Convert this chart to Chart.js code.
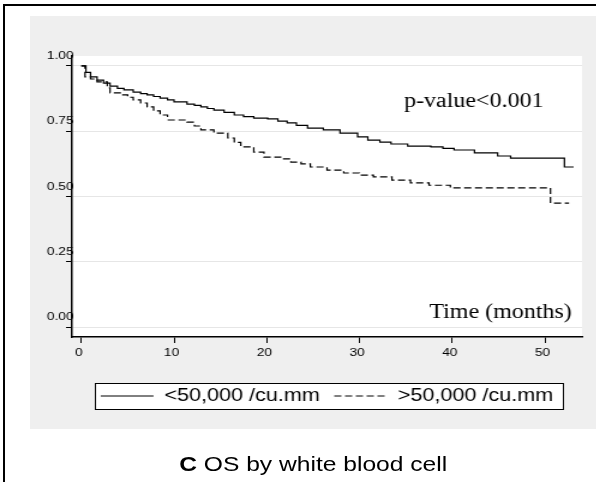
<!DOCTYPE html>
<html>
<head>
<meta charset="utf-8">
<script src="https://cdn.jsdelivr.net/npm/chart.js@4"></script>
<style>
  html, body { margin: 0; padding: 0; background: #fff; width: 596px; height: 482px; overflow: hidden; }
  #frame { position: absolute; left: 3px; top: 4px; width: 700px; height: 600px; border: 2px solid #000; }
  /* the original figure is stretched sideways, so draw narrow and widen */
  #stretch { position: absolute; left: 0; top: 0; width: 497px; height: 482px; transform: scaleX(1.2); transform-origin: 0 0; }
  #panel { position: absolute; left: 25px; top: 16px; width: 472px; height: 413px; background: #efefef; }
  #caption { position: absolute; left: 25px; top: 452px; width: 472px; text-align: center; font: 20.5px "Liberation Sans", Arial, sans-serif; color: #000; }
</style>
</head>
<body>
<div id="frame"></div>
<div id="stretch">
  <div id="panel"><canvas id="osChart" width="472" height="413"></canvas></div>
  <div id="caption"><b>C</b> OS by white blood cell</div>
</div>
<script>
// Kaplan-Meier steps (months, survival)
const lowTime = [0, 0.5, 1.0, 1.7, 2.4, 3.1, 3.9, 4.6, 5.6, 6.4, 7.1, 7.8, 8.5, 9.3, 10.0, 11.4, 12.2, 12.9, 13.6, 14.3,
    15.4, 16.5, 17.5, 18.6, 20.1, 21.2, 22.2, 23.2, 24.4, 26.1, 27.9, 29.8, 30.9, 32.2, 33.4, 35.2, 37.7, 39.0, 40.2,
    42.4, 44.9, 46.3, 52.1, 53.1];
const lowSurv = [1.000, 0.975, 0.958, 0.946, 0.934, 0.923, 0.914, 0.908, 0.900, 0.894, 0.889, 0.883, 0.877, 0.870, 0.862,
    0.854, 0.849, 0.843, 0.837, 0.831, 0.822, 0.812, 0.806, 0.800, 0.797, 0.789, 0.782, 0.772, 0.762, 0.755, 0.743,
    0.728, 0.716, 0.708, 0.701, 0.693, 0.690, 0.684, 0.678, 0.667, 0.655, 0.647, 0.613, 0.613];

const highTime = [0, 0.4, 1.0, 1.7, 2.8, 3.1, 4.2, 5.0, 5.6, 6.4, 7.1, 7.8, 8.5, 9.3, 11.4, 12.2, 12.9, 14.3, 15.8, 16.5,
    17.2, 18.6, 19.7, 21.5, 22.6, 23.7, 24.7, 26.5, 28.3, 30.0, 31.5, 33.5, 35.5, 37.5, 39.8, 50.6, 52.6];
const highSurv = [1.000, 0.958, 0.950, 0.939, 0.916, 0.897, 0.889, 0.880, 0.870, 0.858, 0.843, 0.828, 0.812, 0.793, 0.785,
    0.770, 0.755, 0.743, 0.724, 0.707, 0.690, 0.670, 0.651, 0.644, 0.632, 0.625, 0.613, 0.601, 0.590, 0.582, 0.575,
    0.563, 0.552, 0.543, 0.533, 0.475, 0.475];

const groupLabels = ["<50,000 /cu.mm", ">50,000 /cu.mm"];
const groupDash = [[], [6, 3]];
const xTicks = [0, 10, 20, 30, 40, 50];
const yTicks = [0, 0.25, 0.5, 0.75, 1];

// text placed inside the plot, in data units
const pValueText = "p-value<0.001";
const pValueAt = [34.8, 0.843];
const timeText = "Time (months)";
const timeAt = [52.9, 0.034];

const toPoints = (t, s) => t.map((x, i) => ({ x: x, y: s[i] }));

// white plot area and framed legend on the grey panel
const panelPlugin = {
    id: "panelPlugin",
    beforeDraw(chart) {
        const { ctx, chartArea: a, legend } = chart;
        ctx.save();
        ctx.fillStyle = "#fff";
        ctx.fillRect(a.left, a.top, a.right - a.left, a.bottom - a.top);

        const boxes = legend.legendHitBoxes;
        const first = boxes[0];
        const last = boxes[boxes.length - 1];
        const x0 = Math.round(first.left - 5);
        const x1 = Math.round(last.left + last.width + 8);
        const y0 = Math.round(first.top - 4);
        const y1 = Math.round(first.top + first.height + 4);
        ctx.fillRect(x0, y0, x1 - x0, y1 - y0);
        ctx.strokeStyle = "#000";
        ctx.lineWidth = 1;
        ctx.strokeRect(x0 + 0.5, y0 + 0.5, x1 - x0, y1 - y0);
        ctx.restore();
    }
};

const notesPlugin = {
    id: "notesPlugin",
    afterDatasetsDraw(chart) {
        const { ctx, scales } = chart;
        ctx.save();
        ctx.fillStyle = "#000";
        ctx.font = '20px "Liberation Serif", "Times New Roman", serif';
        ctx.textBaseline = "alphabetic";
        ctx.textAlign = "left";
        ctx.fillText(pValueText, scales.x.getPixelForValue(pValueAt[0]), scales.y.getPixelForValue(pValueAt[1]));
        ctx.textAlign = "right";
        ctx.fillText(timeText, scales.x.getPixelForValue(timeAt[0]), scales.y.getPixelForValue(timeAt[1]));
        ctx.restore();
    }
};

const tickFont = { family: '"Liberation Sans", Arial, sans-serif', size: 11.5 };

new Chart(document.getElementById("osChart"), {
    type: "line",
    data: {
        datasets: [
            {
                label: groupLabels[0],
                data: toPoints(lowTime, lowSurv),
                borderColor: "#000",
                borderWidth: 1.2,
                borderDash: groupDash[0],
                stepped: true,
                pointRadius: 0,
                fill: false
            },
            {
                label: groupLabels[1],
                data: toPoints(highTime, highSurv),
                borderColor: "#000",
                borderWidth: 1.2,
                borderDash: groupDash[1],
                stepped: true,
                pointRadius: 0,
                fill: false
            }
        ]
    },
    options: {
        responsive: false,
        animation: false,
        devicePixelRatio: 1,
        layout: { padding: { top: 40, right: 12, bottom: 14, left: 0 } },
        plugins: {
            tooltip: { enabled: false },
            legend: {
                position: "bottom",
                fullSize: false,
                labels: {
                    usePointStyle: true,
                    pointStyle: "line",
                    pointStyleWidth: 44,
                    boxWidth: 44,
                    padding: 12,
                    color: "#000",
                    font: { family: '"Liberation Sans", Arial, sans-serif', size: 18 },
                    // point style hides the dataset dash, so put it back
                    generateLabels: chart => Chart.defaults.plugins.legend.labels.generateLabels(chart)
                        .map((item, i) => Object.assign(item, { lineDash: groupDash[i], lineWidth: 1, strokeStyle: "#000" }))
                }
            }
        },
        scales: {
            x: {
                type: "linear",
                min: -1,
                max: 54,
                afterBuildTicks: scale => { scale.ticks = xTicks.map(v => ({ value: v })); },
                afterFit: scale => { scale.height = 38; },
                ticks: { color: "#000", font: tickFont, padding: 3, maxRotation: 0, labelOffset: -2 },
                grid: { drawOnChartArea: false, tickColor: "#000", tickLength: 6 },
                border: { color: "#000", width: 1.5 }
            },
            y: {
                min: -0.038,
                max: 1.038,
                afterBuildTicks: scale => { scale.ticks = yTicks.map(v => ({ value: v })); },
                afterFit: scale => { scale.width = 35; },
                ticks: {
                    color: "#000",
                    font: tickFont,
                    mirror: true,
                    padding: -21,
                    labelOffset: -10,
                    callback: v => v.toFixed(2)
                },
                grid: { color: "#e6e6e6", tickColor: "#000", tickLength: 5 },
                border: { color: "#000", width: 1.5 }
            }
        }
    },
    plugins: [panelPlugin, notesPlugin]
});
</script>
</body>
</html>
